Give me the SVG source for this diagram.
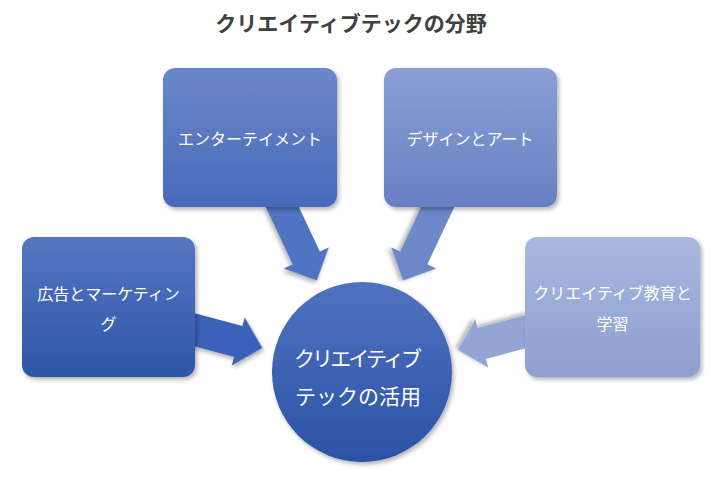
<svg xmlns="http://www.w3.org/2000/svg" width="722" height="482" viewBox="0 0 722 482">
  <defs>
    <linearGradient id="g1" x1="0" y1="0" x2="0" y2="1">
      <stop offset="0" stop-color="#6c88c9"/>
      <stop offset="1" stop-color="#4869ba"/>
    </linearGradient>
    <linearGradient id="g2" x1="0" y1="0" x2="0" y2="1">
      <stop offset="0" stop-color="#8aa0d6"/>
      <stop offset="1" stop-color="#6680c2"/>
    </linearGradient>
    <linearGradient id="g3" x1="0" y1="0" x2="0" y2="1">
      <stop offset="0" stop-color="#5677c0"/>
      <stop offset="1" stop-color="#2d55a8"/>
    </linearGradient>
    <linearGradient id="g4" x1="0" y1="0" x2="0" y2="1">
      <stop offset="0" stop-color="#a9b8df"/>
      <stop offset="1" stop-color="#8d9fd1"/>
    </linearGradient>
    <linearGradient id="gc" x1="0" y1="0" x2="0" y2="1">
      <stop offset="0" stop-color="#5072bf"/>
      <stop offset="1" stop-color="#2b52a6"/>
    </linearGradient>
    <filter id="sh" x="-20%" y="-20%" width="140%" height="140%">
      <feDropShadow dx="2" dy="2.5" stdDeviation="2" flood-color="#000" flood-opacity="0.3"/>
    </filter>
  </defs>
  <style>
    .title { font-family: "Noto Sans CJK JP", "Liberation Sans", sans-serif; font-size: 21px; font-weight: bold; fill: #404040; }
    .lbl { font-family: "Noto Sans CJK JP", "Liberation Sans", sans-serif; font-size: 16px; fill: #ffffff; }
    .clbl { font-family: "Noto Sans CJK JP", "Liberation Sans", sans-serif; font-size: 21px; fill: #ffffff; }
    .box { filter: url(#sh); }
    .arr { filter: url(#sh); }
  </style>

  <text class="title" x="351" y="22" text-anchor="middle" dominant-baseline="central">クリエイティブテックの分野</text>

  <g id="connectors">
    <g transform="translate(279,200) rotate(64.8)">
      <polygon class="arr" points="0,-15 64,-15 64,-25 89,0 64,25 64,15 0,15" fill="#5074c2"/>
    </g>
    <g transform="translate(441,200) rotate(115.2)">
      <polygon class="arr" points="0,-15 64,-15 64,-25 89,0 64,25 64,15 0,15" fill="#6d87c8"/>
    </g>
    <g transform="translate(188,328) rotate(15)">
      <polygon class="arr" points="0,-16 52,-16 52,-25 77,0 52,25 52,16 0,16" fill="#3a62b8"/>
    </g>
    <g transform="translate(532,330) rotate(165)">
      <polygon class="arr" points="0,-16 52,-16 52,-25 77,0 52,25 52,16 0,16" fill="#93a5d5"/>
    </g>
  </g>

  <g id="node-entertainment">
    <rect class="box" x="163" y="68" width="174" height="139" rx="12" fill="url(#g1)"/>
    <text class="lbl" x="250" y="138" text-anchor="middle" dominant-baseline="central">エンターテイメント</text>
  </g>

  <g id="node-design">
    <rect class="box" x="384" y="68" width="173" height="139" rx="12" fill="url(#g2)"/>
    <text class="lbl" x="470" y="138" text-anchor="middle" dominant-baseline="central">デザインとアート</text>
  </g>

  <g id="node-advertising">
    <rect class="box" x="22" y="237" width="173" height="140" rx="12" fill="url(#g3)"/>
    <text class="lbl" x="108.5" y="293" text-anchor="middle" dominant-baseline="central">広告とマーケティン</text>
    <text class="lbl" x="108.5" y="323" text-anchor="middle" dominant-baseline="central">グ</text>
  </g>

  <g id="node-education">
    <rect class="box" x="525" y="237" width="175" height="140" rx="12" fill="url(#g4)"/>
    <text class="lbl" x="612.5" y="292" text-anchor="middle" dominant-baseline="central">クリエイティブ教育と</text>
    <text class="lbl" x="612.5" y="323" text-anchor="middle" dominant-baseline="central">学習</text>
  </g>

  <g id="node-center">
    <circle class="box" cx="362" cy="372" r="90" fill="url(#gc)"/>
    <text class="clbl" x="358" y="357" text-anchor="middle" dominant-baseline="central" textLength="128" lengthAdjust="spacing">クリエイティブ</text>
    <text class="clbl" x="358" y="395" text-anchor="middle" dominant-baseline="central">テックの活用</text>
  </g>
</svg>
